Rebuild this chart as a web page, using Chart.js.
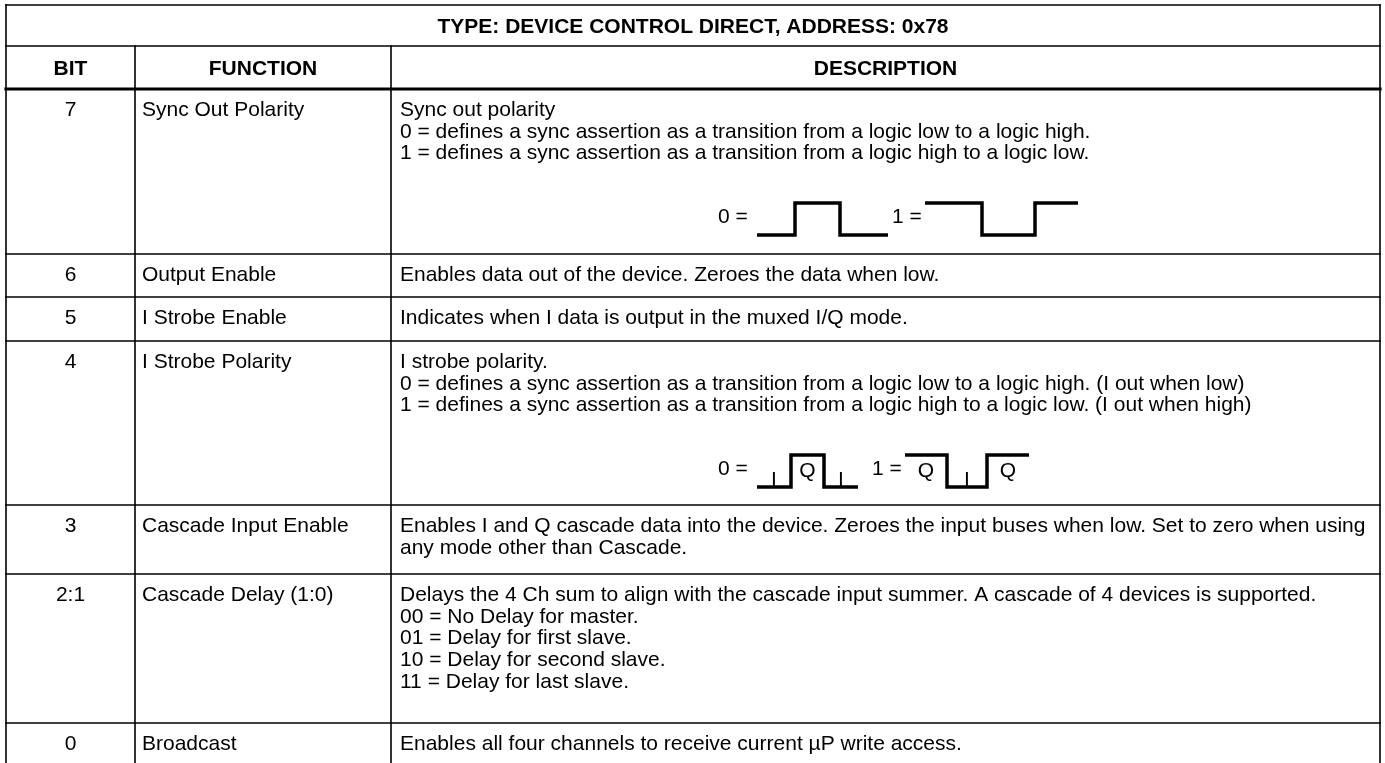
<!DOCTYPE html>
<html>
<head>
<meta charset="utf-8">
<script src="https://cdn.jsdelivr.net/npm/chart.js@4.4.1/dist/chart.umd.min.js"></script>
<style>
  html, body { margin: 0; padding: 0; background: #fff; }
  #wrap { width: 1385px; height: 763px; }
</style>
</head>
<body>
<div id="wrap"><canvas id="regChart" width="1385" height="763"></canvas></div>
<script>
// table content
var title = 'TYPE: DEVICE CONTROL DIRECT, ADDRESS: 0x78';
var headers = ['BIT', 'FUNCTION', 'DESCRIPTION'];
var bits = ['7', '6', '5', '4', '3', '2:1', '0'];
var functions = [
    'Sync Out Polarity',
    'Output Enable',
    'I Strobe Enable',
    'I Strobe Polarity',
    'Cascade Input Enable',
    'Cascade Delay (1:0)',
    'Broadcast'
];
var descriptions = [
    ['Sync out polarity',
     '0 = defines a sync assertion as a transition from a logic low to a logic high.',
     '1 = defines a sync assertion as a transition from a logic high to a logic low.'],
    ['Enables data out of the device. Zeroes the data when low.'],
    ['Indicates when I data is output in the muxed I/Q mode.'],
    ['I strobe polarity.',
     '0 = defines a sync assertion as a transition from a logic low to a logic high. (I out when low)',
     '1 = defines a sync assertion as a transition from a logic high to a logic low. (I out when high)'],
    ['Enables I and Q cascade data into the device. Zeroes the input buses when low. Set to zero when using',
     'any mode other than Cascade.'],
    ['Delays the 4 Ch sum to align with the cascade input summer. A cascade of 4 devices is supported.',
     '00 = No Delay for master.',
     '01 = Delay for first slave.',
     '10 = Delay for second slave.',
     '11 = Delay for last slave.'],
    ['Enables all four channels to receive current \u00b5P write access.']
];

// waveform levels (0 = low, 1 = high)
var syncWave0 = [0, 1, 0];
var syncWave1 = [1, 0, 1];
var strobeWave0 = [0, 1, 0];
var strobeWave1 = [1, 0, 1];
var strobeLabels0 = ['I', 'Q', 'I'];
var strobeLabels1 = ['Q', 'I', 'Q'];
var waveNames = ['0 =', '1 ='];

// layout (pixels)
var colEdges = [6, 135, 391, 1380];
var rowEdges = [5, 46, 89, 254, 297, 341, 505, 574, 723, 766];
var FONT = '"Liberation Sans", Arial, Helvetica, sans-serif';
var fontSize = 21;
var lineGap = 21.7;
var firstLine = 19.5;

// waveform placement: row index, label x, start x, segment widths
var waves = [
    { row: 0, name: 0, nameX: 718, x0: 757, seg: [38, 45, 48], levels: syncWave0 },
    { row: 0, name: 1, nameX: 892, x0: 925, seg: [57, 53, 43], levels: syncWave1 },
    { row: 3, name: 0, nameX: 718, x0: 757, seg: [34, 33, 34], levels: strobeWave0, labels: strobeLabels0 },
    { row: 3, name: 1, nameX: 872, x0: 905, seg: [42, 40, 42], levels: strobeWave1, labels: strobeLabels1 }
];
var waveLowOff = 146;   // from row top
var waveHigh = 32;

function waveTop(w) { return rowEdges[w.row + 2] + waveLowOff; }

function wavePoints(w) {
    var pts = [];
    var x = w.x0;
    var yLow = waveTop(w), yHigh = yLow - waveHigh;
    w.levels.forEach(function(l, i) {
        var y = l ? yHigh : yLow;
        pts.push({ x: x, y: y });
        x += w.seg[i];
        pts.push({ x: x, y: y });
    });
    return pts;
}

var datasets = waves.map(function(w) {
    return {
        type: 'line',
        data: wavePoints(w),
        borderColor: '#000',
        borderWidth: 3.5,
        borderCapStyle: 'butt',
        borderJoinStyle: 'miter',
        pointRadius: 0,
        fill: false,
        tension: 0
    };
});

var tablePlugin = {
    id: 'tablePlugin',
    beforeDatasetsDraw: function(chart) {
        var ctx = chart.ctx;
        var sx = chart.scales.x, sy = chart.scales.y;
        var X = function(v) { return sx.getPixelForValue(v); };
        var Y = function(v) { return sy.getPixelForValue(v); };
        var left = colEdges[0], right = colEdges[colEdges.length - 1];

        ctx.save();
        ctx.strokeStyle = '#000';
        ctx.lineCap = 'square';

        // horizontal rules
        rowEdges.forEach(function(r, i) {
            ctx.lineWidth = (i === 2) ? 3.2 : 1.6;
            ctx.beginPath();
            ctx.moveTo(X(left), Y(r));
            ctx.lineTo(X(right), Y(r));
            ctx.stroke();
        });
        // outer verticals
        ctx.lineWidth = 1.6;
        [left, right].forEach(function(c) {
            ctx.beginPath();
            ctx.moveTo(X(c), Y(rowEdges[0]));
            ctx.lineTo(X(c), Y(rowEdges[rowEdges.length - 1]));
            ctx.stroke();
        });
        // inner verticals (below title)
        colEdges.slice(1, -1).forEach(function(c) {
            ctx.beginPath();
            ctx.moveTo(X(c), Y(rowEdges[1]));
            ctx.lineTo(X(c), Y(rowEdges[rowEdges.length - 1]));
            ctx.stroke();
        });

        ctx.fillStyle = '#000';
        ctx.textBaseline = 'alphabetic';
        var capHalf = fontSize * 0.36;

        // title
        ctx.font = 'bold ' + fontSize + 'px ' + FONT;
        ctx.textAlign = 'center';
        ctx.fillText(title, X((left + right) / 2), Y((rowEdges[0] + rowEdges[1]) / 2) + capHalf);
        // headers
        headers.forEach(function(h, i) {
            ctx.fillText(h, X((colEdges[i] + colEdges[i + 1]) / 2), Y((rowEdges[1] + rowEdges[2]) / 2) + capHalf);
        });

        // body rows
        ctx.font = fontSize + 'px ' + FONT;
        bits.forEach(function(b, r) {
            var top = rowEdges[r + 2];
            var y0 = Y(top + firstLine) + capHalf;
            ctx.textAlign = 'center';
            ctx.fillText(b, X((colEdges[0] + colEdges[1]) / 2), y0);
            ctx.textAlign = 'left';
            ctx.fillText(functions[r], X(colEdges[1] + 7), y0);
            descriptions[r].forEach(function(line, k) {
                ctx.fillText(line, X(colEdges[2] + 9), y0 + k * lineGap);
            });
        });

        // waveform names and labels
        waves.forEach(function(w) {
            var yLow = waveTop(w);
            ctx.textAlign = 'left';
            ctx.fillText(waveNames[w.name], X(w.nameX), Y(yLow - waveHigh + 12) + capHalf);
            if (w.labels) {
                ctx.textAlign = 'center';
                var x = w.x0;
                w.labels.forEach(function(lab, i) {
                    var yy = w.levels[i] ? yLow - waveHigh + 14 : yLow - 9;
                    ctx.fillText(lab, X(x + w.seg[i] / 2), Y(yy) + capHalf);
                    x += w.seg[i];
                });
            }
        });
        ctx.restore();
    }
};

new Chart(document.getElementById('regChart'), {
    type: 'scatter',
    data: { datasets: datasets },
    options: {
        responsive: false,
        animation: false,
        devicePixelRatio: 1,
        layout: { padding: 0 },
        plugins: { legend: { display: false }, tooltip: { enabled: false } },
        scales: {
            x: { type: 'linear', min: 0, max: 1385, display: false },
            y: { type: 'linear', min: 0, max: 763, reverse: true, display: false }
        },
        elements: { line: { spanGaps: true } }
    },
    plugins: [tablePlugin]
});
</script>
</body>
</html>
